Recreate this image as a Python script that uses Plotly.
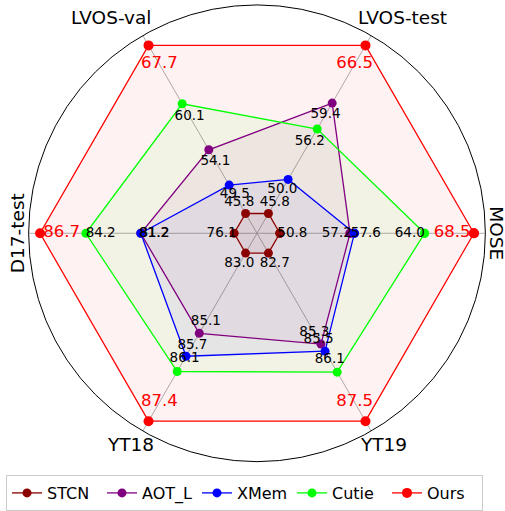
import numpy as np
import plotly.graph_objects as go

# ---------------- data ----------------
categories = ['MOSE', 'LVOS-test', 'LVOS-val', 'D17-test', 'YT18', 'YT19']
methods = ['STCN', 'AOT_L', 'XMem', 'Cutie', 'Ours']
stcn = [50.8, 45.8, 45.8, 76.1, 83.0, 82.7]
aot_l = [57.2, 59.4, 54.1, 81.2, 85.1, 85.3]
xmem = [57.6, 50.0, 49.5, 81.2, 85.7, 85.5]
cutie = [64.0, 56.2, 60.1, 84.2, 86.1, 86.1]
ours = [68.5, 66.5, 67.7, 86.7, 87.4, 87.5]
series = [stcn, aot_l, xmem, cutie, ours]

# ---------------- style ----------------
colors = ['#8b0000', '#800080', '#0000ff', '#00ff00', '#ff0000']
fills = ['rgba(139,0,0,0.05)', 'rgba(128,0,128,0.05)', 'rgba(0,0,255,0.05)',
         'rgba(0,255,0,0.05)', 'rgba(255,0,0,0.05)']
# radial offsets of value labels (normalized radius units)
label_offsets = [
    [0.055] * 6,
    [-0.058] * 6,
    [0.05, -0.05, -0.05, -0.06, -0.056, -0.056],
    [-0.065] * 6,
    [-0.095] * 6,
]
label_colors = ['black', 'black', 'black', 'black', 'red']
label_sizes = [13.5, 13.5, 13.5, 13.5, 16.5]
angles = [0, 60, 120, 180, 240, 300]
axis_label_r = [1.035, 1.136, 1.136, 1.035, 1.075, 1.075]
axis_label_ang = [0, 56.4, 123.6, 180, 239.4, 300.6]
axis_label_rot = [90, 0, 0, -90, 0, 0]

W, H = 505, 511
cx, cy, R = 257, 237, 232
FONT = 'DejaVu Sans'

arr = np.array(series)
vmin = arr.min(axis=0)
vmax = arr.max(axis=0)
norm = 0.1 + 0.85 * (arr - vmin) / (vmax - vmin)

fig = go.Figure()
theta_closed = angles + [angles[0]]

# fills
for i, m in enumerate(methods):
    r = list(norm[i]) + [norm[i][0]]
    fig.add_trace(go.Scatterpolar(r=r, theta=theta_closed, mode='none', fill='toself',
                                  fillcolor=fills[i], showlegend=False, hoverinfo='skip'))
# lines
for i, m in enumerate(methods):
    r = list(norm[i]) + [norm[i][0]]
    fig.add_trace(go.Scatterpolar(r=r, theta=theta_closed, mode='lines+markers', name=m,
                                  line=dict(color=colors[i], width=1.3),
                                  marker=dict(color=colors[i], size=9 if i < 4 else 10)))
# value labels
for i, m in enumerate(methods):
    rr = norm[i] + np.array(label_offsets[i])
    fig.add_trace(go.Scatterpolar(r=rr, theta=angles, mode='text',
                                  text=[f'{v:.1f}' for v in series[i]],
                                  textfont=dict(color=label_colors[i], size=label_sizes[i], family=FONT),
                                  showlegend=False, hoverinfo='skip'))

# axis labels
annotations = []
for k, c in enumerate(categories):
    a = np.deg2rad(axis_label_ang[k])
    px = cx + R * axis_label_r[k] * np.cos(a)
    py = cy - R * axis_label_r[k] * np.sin(a)
    annotations.append(dict(x=px / W, y=1 - py / H, xref='paper', yref='paper', text=c,
                            showarrow=False, xanchor='center', yanchor='middle',
                            textangle=axis_label_rot[k],
                            font=dict(size=18.5, color='black', family=FONT)))

fig.update_layout(
    width=W, height=H,
    margin=dict(l=0, r=0, t=0, b=0),
    paper_bgcolor='white',
    font=dict(family=FONT, color='black'),
    polar=dict(
        domain=dict(x=[(cx - R) / W, (cx + R) / W], y=[1 - (cy + R) / H, 1 - (cy - R) / H]),
        bgcolor='white',
        radialaxis=dict(range=[0, 1], visible=False),
        angularaxis=dict(rotation=0, direction='counterclockwise', tickmode='array',
                         tickvals=angles, showticklabels=False, ticks='',
                         showgrid=True, gridcolor='#b0b0b0', gridwidth=1,
                         showline=True, linecolor='black', linewidth=1),
    ),
    legend=dict(orientation='h', x=6 / W, y=1 - 483 / H, xanchor='left', yanchor='top',
                bgcolor='white', bordercolor='#cccccc', borderwidth=1,
                font=dict(size=16, family=FONT), itemwidth=30,
                entrywidth=50, entrywidthmode='pixels'),
    annotations=annotations,
    showlegend=True,
)

fig.write_html('out.html', config={'displayModeBar': False},
               post_script="document.body.style.margin='0';document.body.style.padding='0';")
